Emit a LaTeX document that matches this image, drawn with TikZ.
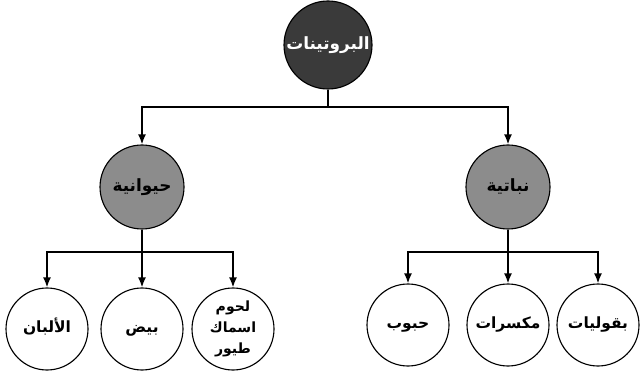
\documentclass[tikz,border=0pt]{standalone}
\usepackage{fontspec}
\usetikzlibrary{arrows.meta, positioning}
\newfontfamily\arabicfont[Script=Arabic]{DejaVu Sans}
\TeXXeTstate=1
\definecolor{rootGray}{HTML}{3A3A3A}
\definecolor{groupGray}{HTML}{8C8C8C}

\begin{document}
\begin{tikzpicture}[
  root/.style={circle, draw=black, thick, fill=rootGray, minimum size=2.2cm,
    inner sep=0pt, align=center, text=white, font=\arabicfont\bfseries\large},
  group/.style={circle, draw=black, thick, fill=groupGray, minimum size=2.1cm,
    inner sep=0pt, align=center, font=\arabicfont\bfseries\large},
  leaf/.style={circle, draw=black, thick, fill=white, minimum size=2.05cm,
    inner sep=0pt, align=center, text height=1.6ex, text depth=0.4ex,
    font=\arabicfont\bfseries\fontsize{11}{13}\selectfont},
  link/.style={line width=1.2pt},
  arr/.style={-{Latex[length=2.5mm, width=2mm]}, line width=1.2pt}
]
\useasboundingbox (0,0) rectangle (16,9.325);
\node[root] (prot) at (8.2,8.2) {\beginR البروتينات\endR};
\node[group] (anim) at (3.55,4.65) {\beginR حيوانية\endR};
\node[group] (plant) at (12.7,4.65) {\beginR نباتية\endR};

\node[leaf] (milk) at (1.175,1.1) {\beginR الألبان\endR};
\node[leaf] (egg) at (3.55,1.1) {\beginR بيض\endR};
\node[leaf, font=\arabicfont\bfseries, text height=, text depth=] (meat) at (5.825,1.1)
  {\beginR لحوم\endR\\[3pt] \beginR اسماك\endR\\[3pt] \beginR طيور\endR};
\node[leaf] (grain) at (10.2,1.2) {\beginR حبوب\endR};
\node[leaf] (nuts) at (12.7,1.2) {\beginR مكسرات\endR};
\node[leaf] (legume) at (14.95,1.2) {\beginR بقوليات\endR};

% branch points
\coordinate (split1) at (8.2,6.65);
\coordinate (split2) at (3.55,3.025);
\coordinate (split3) at (12.7,3.025);

\draw[link] (prot) -- (split1);
\draw[arr] (split1) -| (anim);
\draw[arr] (split1) -| (plant);

\draw[link] (anim) -- (split2);
\draw[arr] (split2) -| (milk);
\draw[arr] (split2) -- (egg);
\draw[arr] (split2) -| (meat);

\draw[link] (plant) -- (split3);
\draw[arr] (split3) -| (grain);
\draw[arr] (split3) -- (nuts);
\draw[arr] (split3) -| (legume);
\end{tikzpicture}
\end{document}
